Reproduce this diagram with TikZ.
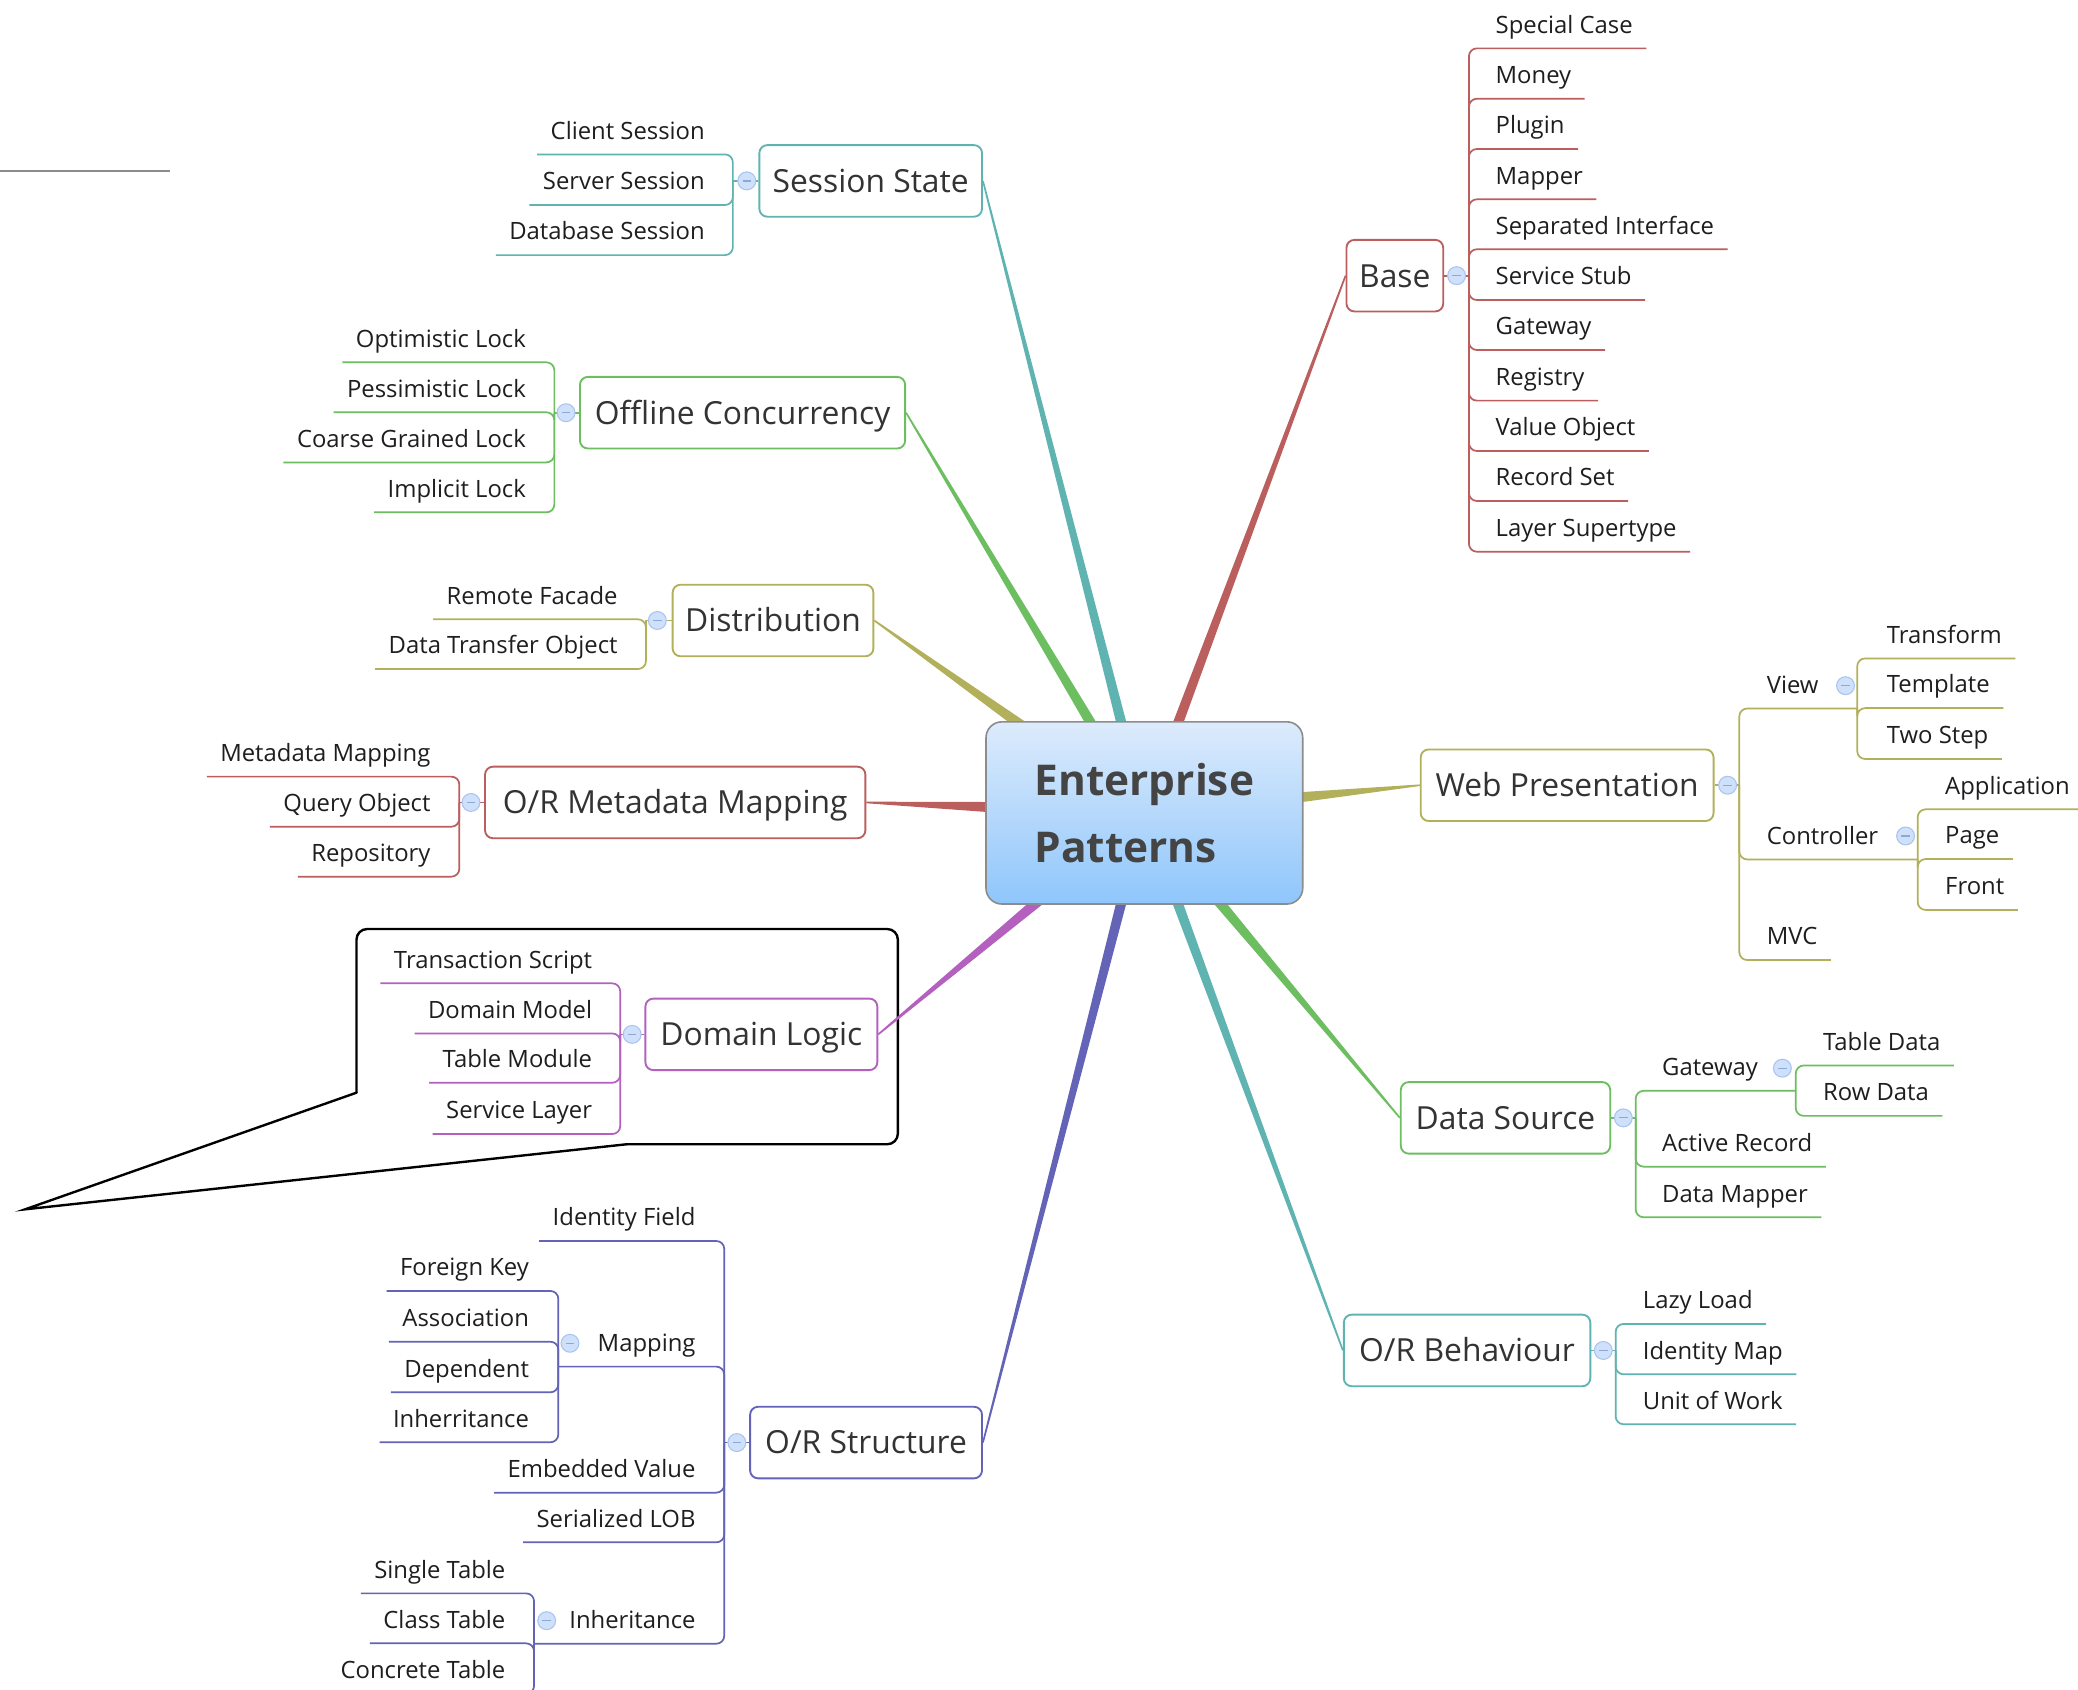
\documentclass[tikz,border=0pt]{standalone}
\usepackage{fontspec}
\setmainfont{Open Sans}
\usetikzlibrary{calc}
\pgfdeclarelayer{bg}
\pgfsetlayers{bg,main}

\definecolor{cTeal}{HTML}{5FB4B2}
\definecolor{cGreen}{HTML}{6DBE60}
\definecolor{cOlive}{HTML}{B2B05A}
\definecolor{cRed}{HTML}{BB5E5E}
\definecolor{cMag}{HTML}{B360BF}
\definecolor{cBlue}{HTML}{6363B8}
\definecolor{txtTopic}{HTML}{333333}
\definecolor{txtLeaf}{HTML}{1E1E1E}
\definecolor{txtCentre}{HTML}{444444}
\definecolor{togFill}{HTML}{CFE0FB}
\definecolor{togDraw}{HTML}{A9C4EF}
\definecolor{togMinus}{HTML}{8DA8D6}
\definecolor{epTop}{HTML}{DDEBFC}
\definecolor{epBot}{HTML}{8FC6FB}
\definecolor{epDraw}{HTML}{8C8C8C}

\newcommand\lffont{\fontsize{18pt}{22pt}\selectfont}

\tikzset{
  topic/.style={draw=#1, line width=1.4pt, fill=white, rounded corners=6pt,
    minimum height=54pt, inner xsep=0pt, text=txtTopic,
    font=\fontsize{24pt}{29pt}\selectfont, text height=17.2pt, text depth=0pt},
  leafR/.style={anchor=base west, inner sep=0pt, text=txtLeaf, font=\lffont},
  leafL/.style={anchor=base east, inner sep=0pt, text=txtLeaf, font=\lffont},
  tog/.style={circle, draw=togDraw, fill=togFill, line width=0.8pt,
    minimum size=13.5pt, inner sep=0pt,
    path picture={\draw[togMinus, line width=0.9pt]
      ([xshift=-3.2pt]path picture bounding box.center) --
      ([xshift=3.2pt]path picture bounding box.center);}},
  wire/.style={draw=#1, line width=1.3pt, rounded corners=6pt},
}

% children hanging to the right of a bracket:
% #1 colour, #2 bracket name, #3 bracket x, #4 junction y, #5 text x, #6 underline-y/label/name
\newcommand\leavesR[6]{%
  \coordinate (#2) at (#3,#4);
  \foreach \uy/\lbl/\nm in {#6}{%
    \node[leafR] (\nm) at (#5,\uy-11.5) {\lbl};
    \draw[wire=#1] (#2) -- ++(0,\uy-#4) -- ($(\nm.base east)+(10,11.5)$);
  }}
% children hanging to the left of a bracket
\newcommand\leavesL[6]{%
  \coordinate (#2) at (#3,#4);
  \foreach \uy/\lbl/\nm in {#6}{%
    \node[leafL] (\nm) at (#5,\uy-11.5) {\lbl};
    \draw[wire=#1] (#2) -- ++(0,\uy-#4) -- ($(\nm.base west)+(-10,11.5)$);
  }}
% tapered branch from a topic to the centre: #1 colour, #2 topic anchor, #3 half width at centre
\newcommand\branch[3]{%
  \fill[#1] ($(#2)!0.6pt!90:(ep.center)$) -- ($(ep.center)!#3!-90:(#2)$)
    -- ($(ep.center)!#3!90:(#2)$) -- ($(#2)!0.6pt!-90:(ep.center)$) -- cycle;}

\begin{document}
\begin{tikzpicture}[x=1pt, y=-1pt]
\useasboundingbox (0,0) rectangle (1568,1275);
\clip (0,0) rectangle (1568,1275);

% central topic
\node[draw=epDraw, line width=1.2pt, rounded corners=12pt, top color=epTop,
  bottom color=epBot, minimum width=239pt, minimum height=137.5pt, align=left,
  text=txtCentre, font=\bfseries\fontsize{32pt}{50.4pt}\selectfont]
  (ep) at (863.5,613.4) {Enterprise\\Patterns};

% main topics
\node[topic=cTeal,  minimum width=168pt] (ss) at (657,136.5)    {Session State};
\node[topic=cGreen, minimum width=245.4pt] (oc) at (560.3,311.4) {Offline Concurrency};
\node[topic=cOlive, minimum width=151.5pt] (di) at (583.3,468.2) {Distribution};
\node[topic=cRed,   minimum width=287pt] (mm) at (509.5,605.5)  {O/R Metadata Mapping};
\node[topic=cMag,   minimum width=175pt] (dl) at (574.5,780.5)  {Domain Logic};
\node[topic=cBlue,  minimum width=175pt] (os) at (653.5,1088.5) {O/R Structure};
\node[topic=cRed,   minimum width=73pt]  (ba) at (1052.5,208)   {Base};
\node[topic=cOlive, minimum width=221pt] (wp) at (1182.5,592.5) {Web Presentation};
\node[topic=cGreen, minimum width=158pt] (ds) at (1136,843.5)   {Data Source};
\node[topic=cTeal,  minimum width=186pt] (ob) at (1107,1019)    {O/R Behaviour};

\begin{pgfonlayer}{bg}
  \fill[white] (0,0) rectangle (1568,1275);
  % stray rule at the top left
  \draw[draw=black!45, line width=1.1pt] (0,129) -- (128,129);
  % callout around the domain logic group
  \draw[line width=1.8pt, rounded corners=8pt, line cap=round]
    (473,863.4) -- (677.5,863.4) -- (677.5,701) -- (269,701) -- (269,824.5);
  \draw[line width=1.8pt, line cap=round, line join=miter]
    (269,824.5) -- (19,912.5) -- (473,863.4);
  % branches to the centre
  \branch{cTeal}{ss.east}{4.28pt}
  \branch{cGreen}{oc.east}{4.68pt}
  \branch{cOlive}{di.east}{6.58pt}
  \branch{cRed}{mm.east}{7.89pt}
  \branch{cMag}{dl.east}{5.97pt}
  \branch{cBlue}{os.east}{4.28pt}
  \branch{cRed}{ba.west}{4.39pt}
  \branch{cOlive}{wp.west}{7.97pt}
  \branch{cGreen}{ds.west}{5.09pt}
  \branch{cTeal}{ob.west}{4.39pt}
\end{pgfonlayer}

% Session State
\leavesL{cTeal}{ssk}{553}{136.5}{532}{116.5/Client Session/ss1, 154.7/Server Session/ss2, 192.5/Database Session/ss3}
\draw[wire=cTeal] (ss.west) -- (ssk);
\node[tog] (sst) at (563.5,136.5) {};

% Offline Concurrency
\leavesL{cGreen}{ock}{418.3}{311.4}{397}{273.4/Optimistic Lock/oc1, 311.1/Pessimistic Lock/oc2, 348.9/Coarse Grained Lock/oc3, 386.6/Implicit Lock/oc4}
\draw[wire=cGreen] (oc.west) -- (ock);
\node[tog] (oct) at (427.1,311.4) {};

% Distribution
\leavesL{cOlive}{dik}{487.4}{468.2}{466.2}{467.3/Remote Facade/di1, 504.8/Data Transfer Object/di2}
\draw[wire=cOlive] (di.west) -- (dik);
\node[tog] (dit) at (496,468.2) {};

% O/R Metadata Mapping
\leavesL{cRed}{mmk}{346.6}{605.5}{325}{586/Metadata Mapping/mm1, 623.8/Query Object/mm2, 661.5/Repository/mm3}
\draw[wire=cRed] (mm.west) -- (mmk);
\node[tog] (mmt) at (355.4,605.5) {};

% Domain Logic
\leavesL{cMag}{dlk}{468}{780.5}{447}{742/Transaction Script/dl1, 779.8/Domain Model/dl2, 817/Table Module/dl3, 855.7/Service Layer/dl4}
\draw[wire=cMag] (dl.west) -- (dlk);
\node[tog] (dlt) at (477,780.5) {};

% O/R Structure
\leavesL{cBlue}{osk}{546.5}{1088.5}{525}{936.4/Identity Field/os1, 1126.3/Embedded Value/os3, 1163.8/Serialized LOB/os4}
\leavesL{cBlue}{mpk}{421.3}{1031.2}{399.3}{974.1/Foreign Key/mp1, 1012.4/Association/mp2, 1050.6/Dependent/mp3, 1088.3/Inherritance/mp4}
\node[leafL] (mp) at (525,1031.2-11.5) {Mapping};
\draw[wire=cBlue] (osk) -- ++(0,1031.2-1088.5) -- (mpk);
\node[tog] (mpt) at (430.1,1013.6) {};
\leavesL{cBlue}{ihk}{403}{1240.3}{381.5}{1202.3/Single Table/ih1, 1240/Class Table/ih2, 1278/Concrete Table/ih3}
\node[leafL] (ih) at (525,1240.3-11.5) {Inheritance};
\draw[wire=cBlue] (osk) -- ++(0,1240.3-1088.5) -- (ihk);
\node[tog] (iht) at (412.5,1222.9) {};
\draw[wire=cBlue] (os.west) -- (osk);
\node[tog] (ost) at (556,1088.5) {};

% Base
\leavesR{cRed}{bak}{1108.4}{208}{1128.4}{36.5/Special Case/ba1, 74.5/Money/ba2, 112.4/Plugin/ba3, 150.4/Mapper/ba4, 188.1/Separated Interface/ba5, 226.4/Service Stub/ba6, 264.1/Gateway/ba7, 302.3/Registry/ba8, 340.3/Value Object/ba9, 378/Record Set/ba10, 416.3/Layer Supertype/ba11}
\draw[wire=cRed] (ba.east) -- (bak);
\node[tog] (bat) at (1099.1,208) {};

% Web Presentation
\leavesR{cOlive}{wpk}{1312.4}{592.5}{1333}{724.4/MVC/wp3}
\leavesR{cOlive}{vwk}{1401.4}{534.6}{1423.6}{496.8/Transform/vw1, 534.3/Template/vw2, 572.7/Two Step/vw3}
\node[leafR] (vw) at (1333,534.6-11.5) {View};
\draw[wire=cOlive] (wpk) -- ++(0,534.6-592.5) -- (vwk);
\node[tog] (vwt) at (1392.6,517.4) {};
\leavesR{cOlive}{ctk}{1447}{648.5}{1467.6}{610.7/Application/ct1, 648.2/Page/ct2, 686.6/Front/ct3}
\node[leafR] (ct) at (1333,648.5-11.5) {Controller};
\draw[wire=cOlive] (wpk) -- ++(0,648.5-592.5) -- (ctk);
\node[tog] (ctt) at (1437.9,630.8) {};
\draw[wire=cOlive] (wp.east) -- (wpk);
\node[tog] (wpt) at (1303.6,592.5) {};

% Data Source
\leavesR{cGreen}{dsk}{1234.2}{843.5}{1254}{880.3/Active Record/ds2, 918.5/Data Mapper/ds3}
\leavesR{cGreen}{gwk}{1355}{823.1}{1375.5}{804/Table Data/gw1, 842/Row Data/gw2}
\node[leafR] (gw) at (1254,823.1-11.5) {Gateway};
\draw[wire=cGreen] (dsk) -- ++(0,823.1-843.5) -- (gwk);
\node[tog] (gwt) at (1344.9,806) {};
\draw[wire=cGreen] (ds.east) -- (dsk);
\node[tog] (dst) at (1224.9,843.5) {};

% O/R Behaviour
\leavesR{cTeal}{obk}{1219.1}{1019}{1239.5}{999/Lazy Load/ob1, 1037/Identity Map/ob2, 1074.7/Unit of Work/ob3}
\draw[wire=cTeal] (ob.east) -- (obk);
\node[tog] (obt) at (1209.8,1019) {};
\end{tikzpicture}
\end{document}
